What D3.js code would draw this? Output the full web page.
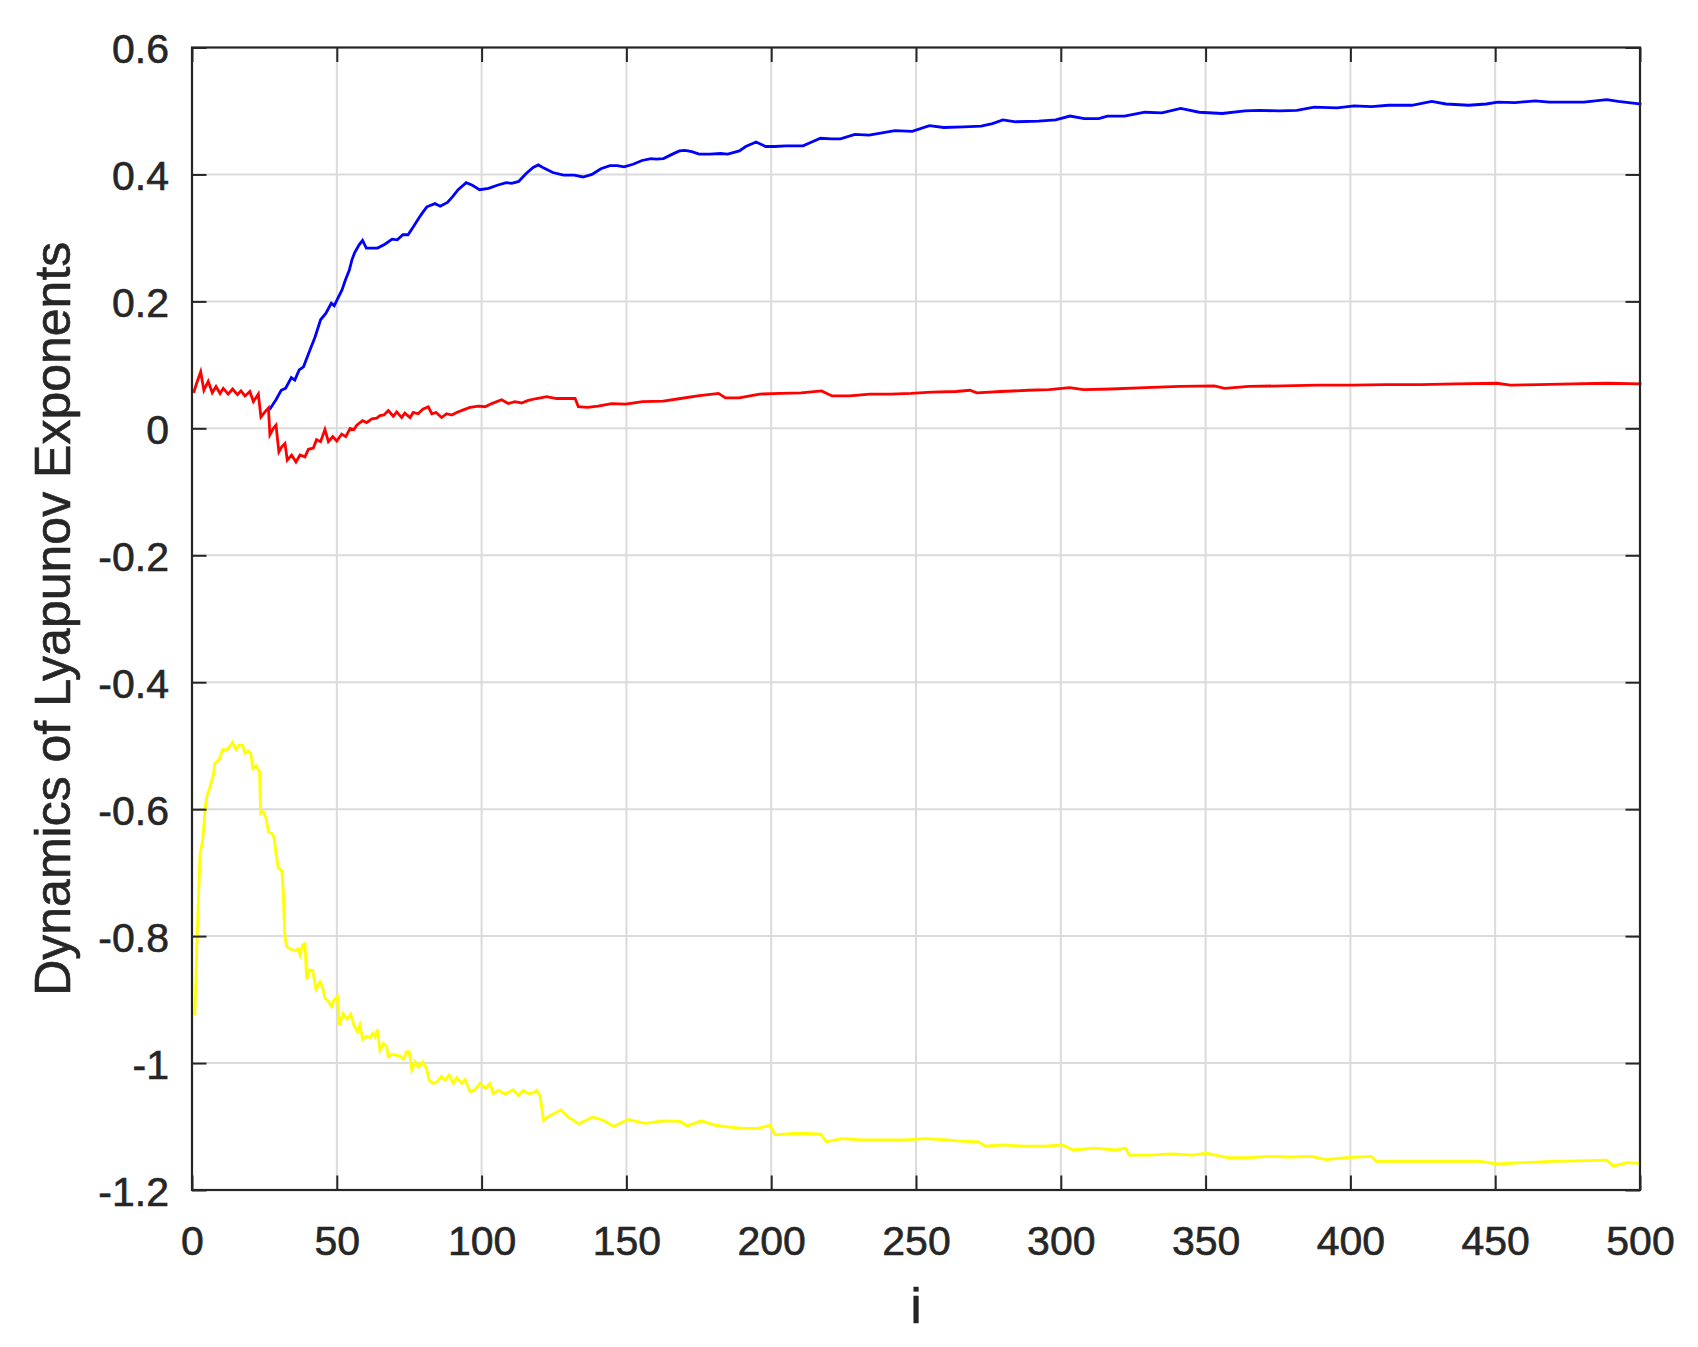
<!DOCTYPE html>
<html>
<head>
<meta charset="utf-8">
<script src="https://cdn.jsdelivr.net/npm/d3@7"></script>
<style>
  html, body { margin: 0; padding: 0; background: #ffffff; }
  svg { display: block; }
  text { font-family: "Liberation Sans", Arial, Helvetica, sans-serif; fill: #262626; }
</style>
</head>
<body>
<script>
// ---------- data ----------
const xTicks = [0, 50, 100, 150, 200, 250, 300, 350, 400, 450, 500];
const xTickLabels = ["0", "50", "100", "150", "200", "250", "300", "350", "400", "450", "500"];
const yTicks = [-1.2, -1.0, -0.8, -0.6, -0.4, -0.2, 0, 0.2, 0.4, 0.6];
const yTickLabels = ["-1.2", "-1", "-0.8", "-0.6", "-0.4", "-0.2", "0", "0.2", "0.4", "0.6"];
const xLabel = "i";
const yLabel = "Dynamics of Lyapunov Exponents";

// [i, value]
const blueSeries = [[27,0.031],[29,0.045],[30.8,0.060],[32.3,0.063],[34.3,0.080],[35.5,0.076],[37,0.092],[38.5,0.097],[40.7,0.123],[42.5,0.144],[44.4,0.171],[46.2,0.181],[48.1,0.197],[49.1,0.193],[50.6,0.207],[51.8,0.218],[53,0.234],[54.3,0.249],[55.2,0.265],[56.1,0.276],[57.7,0.289],[58.9,0.296],[60.2,0.284],[64.1,0.284],[66.6,0.290],[69.1,0.298],[70.9,0.297],[72.8,0.305],[74.6,0.305],[76.5,0.318],[78.3,0.331],[79.5,0.339],[81.1,0.349],[83.9,0.354],[85.7,0.350],[88.2,0.356],[90,0.365],[91.9,0.376],[94.7,0.387],[96.8,0.383],[99.3,0.376],[102.4,0.378],[105.4,0.383],[108.5,0.387],[110.4,0.386],[112.8,0.389],[115.3,0.401],[117.8,0.411],[119.6,0.415],[121.5,0.410],[124.6,0.403],[128.3,0.399],[132,0.399],[135,0.396],[138.1,0.400],[141.2,0.409],[144.3,0.414],[146.8,0.414],[149.2,0.412],[152.3,0.416],[155.4,0.422],[158.5,0.425],[160.3,0.424],[162.8,0.425],[165.9,0.432],[168.3,0.437],[170.2,0.438],[172.6,0.436],[175.1,0.432],[178.8,0.432],[182.5,0.433],[185,0.432],[189,0.437],[191.2,0.444],[194.8,0.451],[198.1,0.444],[201.1,0.444],[205.1,0.445],[211,0.445],[214,0.451],[217,0.457],[220.9,0.456],[223.9,0.456],[228.9,0.463],[233.8,0.462],[237.8,0.465],[242.7,0.469],[248.7,0.468],[254.6,0.477],[259.6,0.474],[266.5,0.475],[272.5,0.476],[276.4,0.480],[280,0.486],[284.4,0.483],[292.3,0.484],[298.2,0.486],[303.2,0.492],[308.1,0.488],[313.1,0.488],[316.1,0.492],[322,0.492],[329,0.498],[334.9,0.497],[341.4,0.504],[347.8,0.498],[355.7,0.496],[363.6,0.500],[368.6,0.501],[375.5,0.500],[381.5,0.501],[387.5,0.506],[395.4,0.505],[401.3,0.508],[407.3,0.507],[413.2,0.509],[421.2,0.509],[428.1,0.515],[433,0.511],[440.9,0.509],[446.9,0.511],[450.9,0.514],[456.8,0.513],[463.8,0.516],[468.7,0.514],[480.6,0.514],[488.5,0.518],[492.5,0.515],[500,0.511]];

const redSeries = [[0.7,0.058],[1.6,0.071],[3,0.089],[4.1,0.060],[5.6,0.074],[7,0.056],[8.3,0.066],[9.7,0.055],[10.8,0.063],[12.5,0.054],[14,0.062],[15.7,0.053],[16.9,0.059],[18.3,0.051],[20,0.058],[21.2,0.042],[22.9,0.054],[23.8,0.018],[25.2,0.026],[26.4,0.032],[26.9,-0.010],[28.1,0.000],[29,0.005],[30,-0.037],[31,-0.029],[32.1,-0.024],[32.9,-0.050],[34.4,-0.042],[35.9,-0.053],[37.3,-0.042],[39,-0.045],[40.2,-0.033],[41.9,-0.031],[43,-0.018],[44.4,-0.021],[45.9,-0.002],[47.1,-0.021],[48.6,-0.013],[50,-0.020],[51.7,-0.009],[53.1,-0.013],[54.6,0.000],[55.9,-0.002],[56.9,0.005],[58.9,0.012],[60.3,0.009],[62.1,0.015],[63.8,0.016],[64.9,0.020],[66.3,0.021],[67.8,0.028],[69.5,0.019],[70.7,0.026],[72.4,0.017],[73.5,0.024],[75.3,0.017],[76.4,0.025],[78.1,0.023],[79.7,0.030],[81.6,0.034],[82.8,0.023],[84.3,0.025],[86.2,0.017],[87.9,0.023],[89.7,0.021],[91.4,0.025],[93.7,0.029],[96,0.033],[98.9,0.035],[101.2,0.034],[103.5,0.039],[106.9,0.045],[109.2,0.039],[111.5,0.042],[113.8,0.040],[116.1,0.044],[119,0.047],[122.5,0.050],[125.9,0.047],[129.4,0.047],[132.3,0.047],[133.4,0.034],[136.6,0.033],[140.2,0.035],[144.9,0.039],[149.7,0.038],[155.6,0.042],[162.7,0.043],[168.7,0.047],[174.6,0.051],[181.8,0.055],[184.2,0.048],[188.9,0.048],[196,0.054],[203.2,0.055],[210.3,0.056],[217.4,0.059],[221,0.051],[227,0.051],[234.1,0.054],[241.2,0.054],[248.3,0.055],[255.5,0.057],[263.8,0.058],[268.6,0.060],[271,0.056],[279.3,0.058],[288.8,0.060],[295.9,0.061],[303,0.064],[307.8,0.061],[317.3,0.062],[329.2,0.064],[341.1,0.066],[353,0.067],[356.6,0.063],[364.9,0.066],[376.8,0.067],[388.7,0.068],[400.6,0.068],[412.4,0.069],[424.3,0.069],[436.2,0.070],[450.5,0.071],[455.3,0.068],[464.8,0.069],[476.7,0.070],[488.5,0.071],[500,0.070]];

const yellowSeries = [[1,-0.922],[1.4,-0.864],[1.8,-0.796],[2.2,-0.743],[2.8,-0.670],[3.7,-0.649],[4.5,-0.601],[5.1,-0.580],[6.2,-0.565],[7.4,-0.546],[7.9,-0.528],[9.4,-0.522],[10.6,-0.506],[12,-0.507],[12.9,-0.502],[14,-0.495],[15.2,-0.506],[16.3,-0.499],[17.5,-0.499],[18.3,-0.512],[19.4,-0.508],[20.3,-0.512],[21,-0.536],[22.1,-0.531],[23.3,-0.541],[23.7,-0.607],[24.6,-0.604],[25.6,-0.615],[26.4,-0.636],[27.5,-0.638],[28.3,-0.644],[29,-0.670],[29.8,-0.693],[31,-0.697],[31.5,-0.728],[31.8,-0.770],[32.1,-0.801],[32.7,-0.817],[34.4,-0.821],[35.6,-0.823],[36.7,-0.820],[37.3,-0.830],[38.2,-0.814],[39,-0.812],[39.6,-0.869],[40.5,-0.853],[41.7,-0.854],[42.8,-0.884],[44.2,-0.872],[45.1,-0.881],[45.9,-0.898],[47.1,-0.903],[48.2,-0.911],[49,-0.901],[50.2,-0.895],[50.9,-0.940],[52.2,-0.922],[53.6,-0.931],[54.8,-0.923],[55.9,-0.940],[57.1,-0.951],[58,-0.940],[58.9,-0.963],[60.3,-0.958],[61.5,-0.960],[62.4,-0.953],[63.2,-0.959],[64,-0.947],[64.9,-0.980],[66.1,-0.969],[67.2,-0.974],[67.8,-0.990],[69,-0.986],[71.8,-0.989],[73,-0.994],[74.1,-0.982],[75,-0.982],[75.9,-1.011],[77,-0.998],[78.1,-1.006],[79.7,-0.998],[81,-1.009],[81.9,-1.027],[83.3,-1.032],[84.5,-1.030],[86.2,-1.021],[87.4,-1.027],[88.8,-1.019],[90.2,-1.032],[91.4,-1.023],[93.1,-1.032],[94.3,-1.026],[96,-1.045],[97.7,-1.042],[99.4,-1.032],[101.2,-1.040],[102.9,-1.032],[104,-1.048],[105.8,-1.043],[108.1,-1.049],[110.9,-1.042],[112.7,-1.051],[114.4,-1.043],[116.1,-1.048],[117.9,-1.047],[119,-1.043],[120.2,-1.052],[121.4,-1.090],[123.8,-1.082],[127.4,-1.074],[129.9,-1.085],[133.5,-1.096],[138.3,-1.085],[142,-1.090],[145.6,-1.100],[150.5,-1.089],[156.5,-1.095],[162.6,-1.091],[168.6,-1.092],[171,-1.099],[175.9,-1.091],[180.7,-1.098],[185.6,-1.101],[190.4,-1.103],[195.3,-1.103],[199.6,-1.098],[201.3,-1.113],[207.4,-1.111],[212.2,-1.111],[217.1,-1.112],[219,-1.124],[224.3,-1.119],[231.6,-1.121],[238.9,-1.121],[246.1,-1.121],[253.4,-1.119],[260.7,-1.121],[265.5,-1.123],[271.5,-1.124],[274,-1.131],[280,-1.129],[287.3,-1.131],[294.6,-1.131],[300.6,-1.129],[304.3,-1.137],[311.5,-1.134],[318.8,-1.137],[322.4,-1.134],[323.6,-1.145],[330.9,-1.145],[338.2,-1.143],[345.4,-1.145],[350.3,-1.142],[357.5,-1.149],[364.8,-1.149],[372.1,-1.147],[379.3,-1.148],[386.6,-1.147],[391.5,-1.152],[398.7,-1.149],[407.2,-1.147],[408.9,-1.155],[418.1,-1.155],[425.4,-1.155],[435.1,-1.155],[444.8,-1.155],[450.8,-1.159],[459.3,-1.157],[469,-1.155],[478.7,-1.154],[488.4,-1.153],[490.8,-1.162],[495.7,-1.157],[500,-1.158]];

const seriesList = [
  { name: "blue", data: blueSeries, color: "#0000ff" },
  { name: "red", data: redSeries, color: "#ff0000" },
  { name: "yellow", data: yellowSeries, color: "#ffff00" }
];

// ---------- layout ----------
const W = 1698, H = 1347;
const plot = { left: 192, right: 1640, top: 47.5, bottom: 1190 };
const axisColor = "#262626";
const gridColor = "#dbdbdb";
const tickLen = 14.5;
const tickFont = 41;
const labelFont = 50;

const svg = d3.select("body").append("svg")
  .attr("width", W).attr("height", H)
  .attr("viewBox", `0 0 ${W} ${H}`);
svg.append("rect").attr("width", W).attr("height", H).attr("fill", "#ffffff");

const x = d3.scaleLinear().domain([0, 500]).range([plot.left, plot.right]);
const y = d3.scaleLinear().domain([-1.2, 0.6]).range([plot.bottom, plot.top]);

// grid
const grid = svg.append("g");
grid.selectAll("line.gx").data(xTicks.slice(1, -1)).join("line")
  .attr("x1", d => x(d)).attr("x2", d => x(d))
  .attr("y1", plot.top).attr("y2", plot.bottom)
  .attr("stroke", gridColor).attr("stroke-width", 2);
grid.selectAll("line.gy").data(yTicks.slice(1, -1)).join("line")
  .attr("y1", d => y(d)).attr("y2", d => y(d))
  .attr("x1", plot.left).attr("x2", plot.right)
  .attr("stroke", gridColor).attr("stroke-width", 2);

// lines
const line = d3.line().x(d => x(d[0])).y(d => y(d[1]));
svg.append("g").selectAll("path").data(seriesList).join("path")
  .attr("d", d => line(d.data))
  .attr("fill", "none")
  .attr("stroke", d => d.color)
  .attr("stroke-width", 2.8)
  .attr("stroke-linejoin", "miter")
  .attr("stroke-linecap", "square");

// axes
function styleAxis(g) {
  g.select(".domain").remove();
  g.selectAll(".tick line").attr("stroke", axisColor).attr("stroke-width", 2);
  g.selectAll(".tick text").attr("fill", axisColor)
    .attr("stroke", axisColor).attr("stroke-width", 0.6)
    .style("font-family", '"Liberation Sans", Arial, Helvetica, sans-serif')
    .style("font-size", tickFont + "px");
}

svg.append("g")
  .attr("transform", `translate(0,${plot.bottom})`)
  .call(d3.axisBottom(x).tickValues(xTicks)
    .tickFormat((d, i) => xTickLabels[i])
    .tickSizeInner(-tickLen).tickSizeOuter(0).tickPadding(36))
  .call(styleAxis);

svg.append("g")
  .attr("transform", `translate(0,${plot.top})`)
  .call(d3.axisTop(x).tickValues(xTicks).tickFormat("")
    .tickSizeInner(-tickLen).tickSizeOuter(0))
  .call(styleAxis);

const yAxisG = svg.append("g")
  .attr("transform", `translate(${plot.left},0)`)
  .call(d3.axisLeft(y).tickValues(yTicks)
    .tickFormat((d, i) => yTickLabels[i])
    .tickSizeInner(-tickLen).tickSizeOuter(0).tickPadding(23))
  .call(styleAxis);
yAxisG.selectAll(".tick text").attr("dy", "0.37em");

svg.append("g")
  .attr("transform", `translate(${plot.right},0)`)
  .call(d3.axisRight(y).tickValues(yTicks).tickFormat("")
    .tickSizeInner(-tickLen).tickSizeOuter(0))
  .call(styleAxis);

// box
svg.append("rect")
  .attr("x", plot.left).attr("y", plot.top)
  .attr("width", plot.right - plot.left).attr("height", plot.bottom - plot.top)
  .attr("fill", "none").attr("stroke", axisColor).attr("stroke-width", 2.2);

// axis labels
svg.append("text")
  .attr("x", (plot.left + plot.right) / 2)
  .attr("y", 1323)
  .attr("text-anchor", "middle")
  .attr("stroke", axisColor).attr("stroke-width", 0.6)
  .style("font-size", labelFont + "px")
  .text(xLabel);

svg.append("text")
  .attr("transform", `translate(70,${(plot.top + plot.bottom) / 2}) rotate(-90)`)
  .attr("text-anchor", "middle")
  .attr("stroke", axisColor).attr("stroke-width", 0.6)
  .style("font-size", labelFont + "px")
  .text(yLabel);
</script>
</body>
</html>
